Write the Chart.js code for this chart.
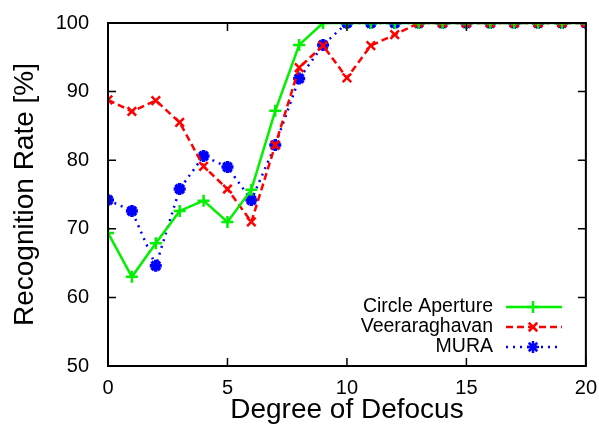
<!DOCTYPE html>
<html>
<head>
<meta charset="utf-8">
<script src="https://cdn.jsdelivr.net/npm/chart.js@4"></script>
<style>
  html, body { margin: 0; padding: 0; background: #fff; }
  #wrap { width: 599px; height: 426px; }
</style>
</head>
<body>
<div id="wrap"><canvas id="c" width="599" height="426"></canvas></div>
<script>
const defocus = [0, 1, 2, 3, 4, 5, 6, 7, 8, 9, 10, 11, 12, 13, 14, 15, 16, 17, 18, 19, 20];
const circleAperture = [69.4, 63.0, 67.9, 72.6, 74.1, 71.0, 75.7, 87.2, 96.8, 100, 100, 100, 100, 100, 100, 100, 100, 100, 100, 100, 100];
const veeraraghavan = [88.8, 87.1, 88.7, 85.5, 79.1, 75.8, 71.0, 82.2, 93.5, 96.7, 92.0, 96.7, 98.3, 100, 100, 100, 100, 100, 100, 100, 100];
const mura = [74.2, 72.6, 64.6, 75.8, 80.6, 79.0, 74.2, 82.2, 91.9, 96.8, 100, 100, 100, 100, 100, 100, 100, 100, 100, 100, 100];
const xTicks = [0, 5, 10, 15, 20];
const yTicks = [50, 60, 70, 80, 90, 100];

const FONT = "'Liberation Sans', Arial, sans-serif";

const toPoints = (vals) => vals.map((v, i) => ({ x: defocus[i], y: v }));

// draw frame and inward ticks like gnuplot
const framePlugin = {
  id: "frame",
  afterDatasetsDraw(chart) {
    const { ctx, chartArea: a, scales } = chart;
    ctx.save();
    ctx.strokeStyle = "#000";
    ctx.lineWidth = 2;
    ctx.strokeRect(a.left, a.top, a.right - a.left, a.bottom - a.top);
    ctx.lineWidth = 1.5;
    ctx.beginPath();
    xTicks.forEach((t) => {
      const px = scales.x.getPixelForValue(t);
      ctx.moveTo(px, a.bottom); ctx.lineTo(px, a.bottom - 8);
      ctx.moveTo(px, a.top); ctx.lineTo(px, a.top + 8);
    });
    yTicks.forEach((t) => {
      const py = scales.y.getPixelForValue(t);
      ctx.moveTo(a.left, py); ctx.lineTo(a.left + 8, py);
      ctx.moveTo(a.right, py); ctx.lineTo(a.right - 8, py);
    });
    ctx.stroke();
    ctx.restore();
  },
};

// legend inside bottom right, text right aligned, sample on the right
const keyPlugin = {
  id: "key",
  afterDatasetsDraw(chart) {
    const { ctx } = chart;
    ctx.save();
    ctx.font = "19.5px " + FONT;
    ctx.textAlign = "right";
    ctx.textBaseline = "middle";
    chart.data.datasets.forEach((ds, i) => {
      const y = 307 + i * 20;
      ctx.fillStyle = "#000";
      ctx.fillText(ds.label, 493, y);
      ctx.strokeStyle = ds.borderColor;
      ctx.fillStyle = ds.borderColor;
      ctx.lineWidth = ds.borderWidth;
      ctx.setLineDash(ds.borderDash || []);
      ctx.beginPath();
      ctx.moveTo(506, y); ctx.lineTo(562, y);
      ctx.stroke();
      ctx.setLineDash([]);
      Chart.helpers.drawPoint(ctx, {
        pointStyle: ds.pointStyle, radius: ds.pointRadius, borderWidth: ds.pointBorderWidth,
      }, 533, y);
    });
    ctx.restore();
  },
};

const ds = (label, data, color, dash, style, pw) => ({
  label,
  data: toPoints(data),
  borderColor: color,
  backgroundColor: color,
  borderWidth: 2.5,
  borderDash: dash,
  pointStyle: style,
  pointRadius: 6,
  pointBorderWidth: pw,
  pointBorderColor: color,
  pointBackgroundColor: color,
  tension: 0,
});

new Chart(document.getElementById("c"), {
  type: "line",
  data: {
    datasets: [
      ds("Circle Aperture", circleAperture, "#00f000", [], "cross", 2.5),
      ds("Veeraraghavan", veeraraghavan, "#ff0000", [7, 4], "crossRot", 2.5),
      ds("MURA", mura, "#0000ff", [2, 5], "star", 3.5),
    ],
  },
  options: {
    responsive: false,
    animation: false,
    layout: { padding: { left: 0, right: 11, top: 19, bottom: 0 } },
    plugins: { legend: { display: false }, tooltip: { enabled: false } },
    scales: {
      x: {
        type: "linear",
        min: 0,
        max: 20,
        afterBuildTicks: (s) => { s.ticks = xTicks.map((v) => ({ value: v })); },
        afterFit: (s) => { s.height = 60; },
        grid: { display: false },
        border: { display: false },
        ticks: { color: "#000", font: { family: FONT, size: 20 }, padding: 2, maxRotation: 0 },
        title: { display: true, text: "Degree of Defocus", color: "#000", font: { family: FONT, size: 28, lineHeight: 1.1 }, padding: { top: 0, bottom: 0 } },
      },
      y: {
        min: 50,
        max: 100,
        afterBuildTicks: (s) => { s.ticks = yTicks.map((v) => ({ value: v })); },
        afterFit: (s) => { s.width = 108; },
        grid: { display: false },
        border: { display: false },
        ticks: { color: "#000", font: { family: FONT, size: 20 }, padding: 11 },
        title: { display: true, text: "Recognition Rate [%]", color: "#000", font: { family: FONT, size: 28 }, padding: { top: 8, bottom: 0 } },
      },
    },
  },
  plugins: [framePlugin, keyPlugin],
});
</script>
</body>
</html>
